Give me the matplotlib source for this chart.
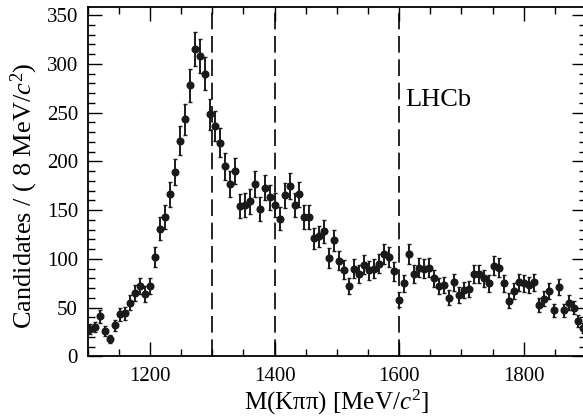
import numpy as np
import matplotlib
matplotlib.use('Agg')
import matplotlib.pyplot as plt
from matplotlib.ticker import MultipleLocator

plt.rcParams['font.family'] = ['Liberation Serif', 'DejaVu Serif']
plt.rcParams['mathtext.fontset'] = 'custom'
plt.rcParams['mathtext.rm'] = 'Liberation Serif'
plt.rcParams['mathtext.it'] = 'Liberation Serif:italic'

# 8 MeV bins from 1100 to 1900
bin_width = 8
bin_centres = np.arange(1104, 1900, bin_width)
counts = [28, 30, 41, 26, 18, 32, 43, 44, 55, 65,
          72, 64, 72, 102, 131, 143, 166, 189, 221, 243,
          278, 315, 308, 290, 248, 236, 219, 195, 177, 190,
          154, 155, 159, 177, 151, 173, 163, 155, 141, 165,
          175, 155, 166, 143, 143, 121, 123, 128, 101, 119,
          98, 89, 72, 90, 84, 94, 88, 90, 95, 105,
          102, 87, 58, 75, 105, 84, 91, 90, 91, 80,
          72, 73, 60, 76, 63, 68, 69, 84, 84, 80,
          75, 93, 91, 75, 57, 67, 76, 75, 73, 76,
          53, 59, 67, 47, 71, 47, 55, 50, 36, 29]
errors = np.sqrt(counts)

region_edges = [1300, 1400, 1600]

fig = plt.figure(figsize=(5.83, 4.17), dpi=100)
ax = fig.add_axes([0.1505, 0.1456, 0.8546, 0.837])

for xe in region_edges:
    ax.axvline(xe, color='black', linewidth=1.2, dashes=(10, 4), zorder=1)

ax.errorbar(bin_centres, counts, yerr=errors, fmt='o', color='#1a1a1a',
            markersize=4.8, elinewidth=1.4, capsize=1.6, capthick=1.0, zorder=3)

ax.set_xlim(1100, 1900)
ax.set_ylim(0, 358)
ax.xaxis.set_major_locator(MultipleLocator(200))
ax.xaxis.set_minor_locator(MultipleLocator(50))
ax.yaxis.set_major_locator(MultipleLocator(50))
ax.yaxis.set_minor_locator(MultipleLocator(10))
ax.tick_params(which='both', direction='in', top=True, right=True,
               labelsize=15, width=1.0)
ax.tick_params(axis='x', which='major', pad=8)
ax.tick_params(axis='y', which='major', pad=7)
ax.tick_params(which='major', length=10)
ax.tick_params(which='minor', length=5)
for s in ax.spines.values():
    s.set_linewidth(1.3)

ax.set_xlabel('M(K\u03c0\u03c0) [MeV/$c^2$]', fontsize=18, labelpad=1)
ax.set_ylabel('Candidates / ( 8 MeV/$c^2$)', fontsize=19)
ax.yaxis.set_label_coords(-0.095, 0.46)

ax.text(1609, 263, 'LHCb', fontsize=19, ha='left', va='center')

fig.savefig('out.png', dpi=100)
